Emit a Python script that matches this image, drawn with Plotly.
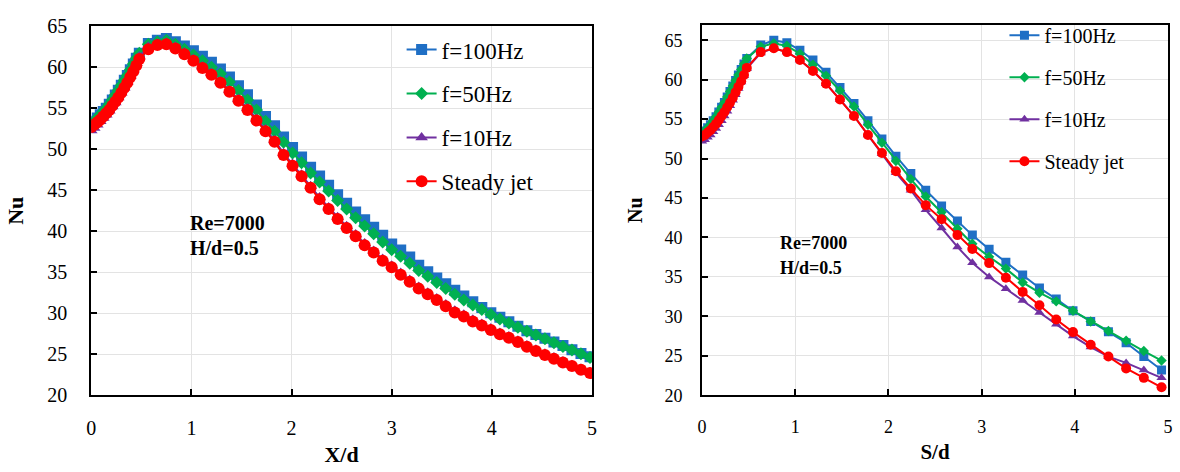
import plotly.graph_objects as go

# ---------------- Left panel: Nu vs X/d ----------------
xd = [0.00, 0.03, 0.06, 0.09, 0.12, 0.15, 0.18, 0.21, 0.24, 0.27, 0.30, 0.33, 0.36, 0.39, 0.42, 0.45, 0.48,
      0.57, 0.66, 0.75, 0.84, 0.93, 1.02, 1.11, 1.20, 1.29, 1.38, 1.47, 1.56, 1.65, 1.74, 1.83, 1.92,
      2.01, 2.10, 2.19, 2.28, 2.37, 2.46, 2.55, 2.64, 2.73, 2.82, 2.91, 3.00, 3.09, 3.18, 3.27, 3.36,
      3.45, 3.54, 3.63, 3.72, 3.81, 3.90, 3.99, 4.08, 4.17, 4.26, 4.35, 4.44, 4.53, 4.62, 4.71, 4.80,
      4.89, 4.98]

left_f100 = [53.1, 53.4, 53.8, 54.2, 54.6, 55.0, 55.5, 56.0, 56.6, 57.2, 57.8, 58.4, 59.0, 59.7, 60.4, 61.1, 61.7,
             62.9, 63.3, 63.5, 63.1, 62.6, 62.0, 61.35, 60.6, 59.8, 58.8, 57.75, 56.65, 55.4, 54.0, 52.85, 51.5,
             50.2, 49.05, 47.8, 46.75, 45.6, 44.45, 43.4, 42.35, 41.4, 40.5, 39.5, 38.45, 37.7, 36.85, 35.85, 35.05,
             34.3, 33.6, 32.8, 32.1, 31.4, 30.7, 30.05, 29.5, 28.95, 28.4, 27.85, 27.4, 26.95, 26.5, 26.05, 25.55,
             25.1, 24.7]
left_f50 = [53.0, 53.4, 53.8, 54.2, 54.6, 55.0, 55.5, 56.0, 56.6, 57.2, 57.8, 58.4, 59.0, 59.7, 60.4, 61.1, 61.7,
            62.8, 63.1, 63.3, 62.8, 62.2, 61.5, 60.8, 60.0, 59.2, 58.2, 57.15, 56.0, 54.8, 53.4, 52.2, 50.85,
            49.55, 48.35, 47.1, 46.0, 44.9, 43.75, 42.7, 41.65, 40.65, 39.7, 38.7, 37.75, 36.95, 36.1, 35.2, 34.5,
            33.75, 33.0, 32.3, 31.6, 31.0, 30.45, 29.85, 29.3, 28.8, 28.3, 27.8, 27.35, 26.9, 26.4, 25.95, 25.5,
            25.05, 24.6]
left_f10 = [52.3, 52.6, 53.0, 53.4, 53.8, 54.2, 54.7, 55.2, 55.7, 56.3, 56.9, 57.5, 58.2, 58.9, 59.7, 60.5, 61.3,
            62.5, 62.9, 63.0, 62.5, 61.8, 61.0, 60.1, 59.3, 58.3, 57.2, 56.1, 55.0, 53.7, 52.4, 51.1, 49.5,
            48.2, 46.9, 45.5, 44.1, 42.9, 41.7, 40.6, 39.6, 38.5, 37.6, 36.6, 35.8, 34.9, 34.05, 33.2, 32.5,
            31.8, 31.05, 30.3, 29.8, 29.2, 28.7, 28.15, 27.6, 27.15, 26.65, 26.05, 25.55, 25.05, 24.6, 24.1, 23.65,
            23.2, 22.8]
left_steady = [52.7, 53.0, 53.3, 53.6, 54.0, 54.4, 54.8, 55.3, 55.8, 56.3, 56.9, 57.5, 58.1, 58.8, 59.5, 60.2, 61.0,
               62.2, 62.7, 62.8, 62.3, 61.6, 60.8, 59.9, 59.1, 58.1, 57.0, 55.9, 54.8, 53.5, 52.2, 50.9, 49.3,
               48.0, 46.7, 45.3, 43.9, 42.7, 41.5, 40.4, 39.4, 38.3, 37.4, 36.4, 35.6, 34.7, 33.85, 33.0, 32.3,
               31.6, 30.85, 30.1, 29.6, 29.0, 28.5, 27.95, 27.45, 27.0, 26.5, 25.9, 25.4, 24.9, 24.45, 24.0, 23.55,
               23.1, 22.7]

# ---------------- Right panel: Nu vs S/d ----------------
sd = [0.00, 0.03, 0.06, 0.09, 0.12, 0.15, 0.18, 0.21, 0.24, 0.27, 0.30, 0.33, 0.36, 0.39, 0.42, 0.45, 0.48,
      0.63, 0.77, 0.91, 1.05, 1.19, 1.33, 1.48, 1.63, 1.78, 1.93, 2.08, 2.24, 2.40, 2.57, 2.74, 2.90,
      3.08, 3.26, 3.44, 3.62, 3.80, 3.98, 4.17, 4.36, 4.55, 4.74, 4.93]

right_f100 = [53.2, 53.5, 53.9, 54.3, 54.8, 55.3, 55.9, 56.5, 57.1, 57.8, 58.5, 59.2, 59.9, 60.6, 61.3, 62.0, 62.7,
              64.4, 65.0, 64.7, 63.75, 62.5, 60.95, 59.0, 57.0, 54.8, 52.5, 50.3, 48.1, 46.0, 44.0, 42.1, 40.3,
              38.5, 36.85, 35.25, 33.6, 32.2, 30.7, 29.35, 28.05, 26.65, 24.9, 23.2]
right_f50 = [53.2, 53.5, 53.9, 54.3, 54.8, 55.3, 55.9, 56.5, 57.1, 57.8, 58.5, 59.2, 59.9, 60.6, 61.3, 62.0, 62.7,
             64.2, 64.6, 64.3, 63.3, 61.9, 60.5, 58.6, 56.6, 54.3, 52.0, 49.7, 47.4, 45.2, 43.2, 41.1, 39.2,
             37.55, 36.05, 34.3, 33.0, 31.9, 30.7, 29.35, 28.15, 26.9, 25.6, 24.4]
right_f10 = [52.2, 52.4, 52.7, 53.0, 53.4, 53.8, 54.3, 54.8, 55.4, 56.0, 56.7, 57.4, 58.1, 58.9, 59.7, 60.5, 61.4,
             63.4, 64.0, 63.5, 62.5, 61.1, 59.5, 57.5, 55.4, 53.0, 50.6, 48.2, 46.0, 43.5, 41.2, 38.8, 36.8,
             35.0, 33.5, 32.0, 30.5, 29.0, 27.5, 26.1, 24.9, 24.1, 23.2, 22.2]
right_steady = [52.8, 53.0, 53.3, 53.6, 54.0, 54.4, 54.9, 55.4, 55.9, 56.5, 57.1, 57.7, 58.4, 59.1, 59.8, 60.6, 61.5,
                63.5, 64.0, 63.5, 62.5, 61.1, 59.5, 57.5, 55.4, 53.0, 50.7, 48.4, 46.2, 44.1, 42.3, 40.3, 38.55,
                36.75, 34.9, 33.1, 31.4, 29.6, 28.0, 26.4, 24.9, 23.4, 22.2, 21.0]

names = ["f=100Hz", "f=50Hz", "f=10Hz", "Steady jet"]
colors = ["#1F6FC5", "#00B050", "#7030A0", "#FF0000"]
symbols = ["square", "diamond", "triangle-up", "circle"]
left_sizes = [11, 10, 11, 12]
right_sizes = [9, 8, 9, 10]

FONT = "Liberation Serif"

fig = go.Figure()

left_series = [left_f100, left_f50, left_f10, left_steady]
right_series = [right_f100, right_f50, right_f10, right_steady]

for i in range(4):
    fig.add_trace(go.Scatter(
        x=xd, y=left_series[i], name=names[i], mode="lines+markers",
        line=dict(color=colors[i], width=2),
        marker=dict(symbol=symbols[i], size=left_sizes[i], color=colors[i]),
        xaxis="x", yaxis="y", legend="legend", legendgroup="L%d" % i))
for i in range(4):
    fig.add_trace(go.Scatter(
        x=sd, y=right_series[i], name=names[i], mode="lines+markers",
        line=dict(color=colors[i], width=2),
        marker=dict(symbol=symbols[i], size=right_sizes[i], color=colors[i]),
        xaxis="x2", yaxis="y2", legend="legend2", legendgroup="R%d" % i))

W, H = 1180, 472

def ax_common(fs):
    return dict(showline=True, linecolor="black", linewidth=2, mirror=True,
                ticks="inside", ticklen=6, tickwidth=1.5, tickcolor="black",
                showgrid=True, gridcolor="#e3e3e3", gridwidth=1, zeroline=False,
                tickfont=dict(family=FONT, size=fs, color="black"))

fig.update_layout(
    width=W, height=H,
    margin=dict(l=0, r=0, t=0, b=0),
    paper_bgcolor="white", plot_bgcolor="white",
    font=dict(family=FONT, color="black"),
    xaxis=dict(domain=[87 / W, 592 / W], range=[0, 5], dtick=1, anchor="y",
               title=dict(text="<b>X/d</b>", font=dict(family=FONT, size=22), standoff=8),
               ticklabelstandoff=14, **ax_common(20)),
    yaxis=dict(domain=[1 - 403 / H, 1 - 16 / H], range=[20, 65], dtick=5, anchor="x",
               title=dict(text="<b>Nu</b>", font=dict(family=FONT, size=22), standoff=18),
               ticklabelstandoff=18, **ax_common(20)),
    xaxis2=dict(domain=[703 / W, 1173 / W], range=[0, 5], dtick=1, anchor="y2",
                title=dict(text="<b>S/d</b>", font=dict(family=FONT, size=21), standoff=8),
                ticklabelstandoff=14, **ax_common(18)),
    yaxis2=dict(domain=[1 - 403 / H, 1 - 15 / H], range=[20, 66.9], dtick=5, anchor="x2",
                title=dict(text="<b>Nu</b>", font=dict(family=FONT, size=20), standoff=16),
                ticklabelstandoff=14, **ax_common(18)),
    legend=dict(x=400 / W, y=1 - 18 / H, xanchor="left", yanchor="top",
                bgcolor="rgba(0,0,0,0)", font=dict(family=FONT, size=23),
                traceorder="grouped", tracegroupgap=11),
    legend2=dict(x=1008 / W, y=1 - 5 / H, xanchor="left", yanchor="top",
                 bgcolor="rgba(0,0,0,0)", font=dict(family=FONT, size=20),
                 traceorder="grouped", tracegroupgap=13),
    annotations=[
        dict(x=0.97, y=41.05, xref="x", yref="y", text="<b>Re=7000</b>", showarrow=False,
             xanchor="left", yanchor="middle", font=dict(family=FONT, size=20)),
        dict(x=0.97, y=37.9, xref="x", yref="y", text="<b>H/d=0.5</b>", showarrow=False,
             xanchor="left", yanchor="middle", font=dict(family=FONT, size=20)),
        dict(x=0.82, y=39.35, xref="x2", yref="y2", text="<b>Re=7000</b>", showarrow=False,
             xanchor="left", yanchor="middle", font=dict(family=FONT, size=18)),
        dict(x=0.82, y=36.1, xref="x2", yref="y2", text="<b>H/d=0.5</b>", showarrow=False,
             xanchor="left", yanchor="middle", font=dict(family=FONT, size=18)),
    ],
)

fig.write_html("out.html")
